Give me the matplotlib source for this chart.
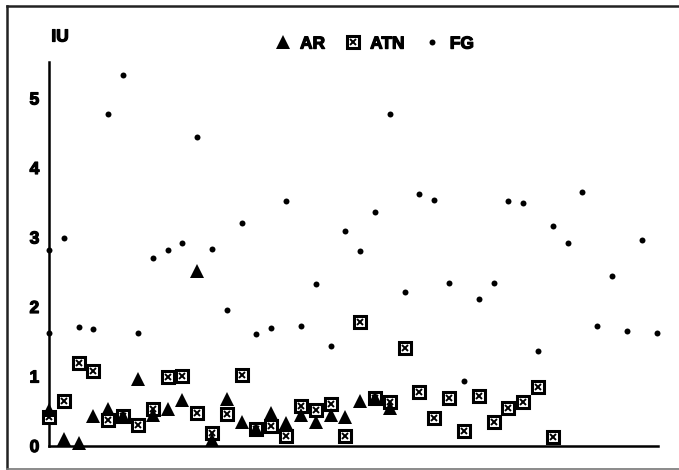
import matplotlib
matplotlib.use("Agg")
import matplotlib.pyplot as plt
import matplotlib.patheffects as pe
from matplotlib.lines import Line2D

plt.rcParams['font.family'] = ['Liberation Sans', 'DejaVu Sans']

# valores (indice de muestra, UI)
ar_x = list(range(24))
ar_y = [0.52, 0.10, 0.05, 0.43, 0.53, 0.43, 0.97, 0.45, 0.53, 0.66, 2.52, 0.08,
        0.67, 0.34, 0.25, 0.48, 0.33, 0.45, 0.34, 0.45, 0.42, 0.65, 0.69, 0.55]

atn_x = list(range(35))
atn_y = [0.42, 0.65, 1.19, 1.08, 0.37, 0.43, 0.30, 0.53, 0.99, 1.01, 0.48, 0.19,
         0.46, 1.02, 0.25, 0.29, 0.14, 0.58, 0.52, 0.61, 0.14, 1.79, 0.69, 0.64,
         1.41, 0.77, 0.41, 0.69, 0.21, 0.72, 0.34, 0.54, 0.64, 0.85, 0.13]

fg_x = [0] + list(range(42))
fg_y = [1.62, 2.82, 2.99, 1.71, 1.69, 4.78, 5.34, 1.63, 2.71, 2.82, 2.92, 4.44,
        2.84, 1.95, 3.21, 1.61, 1.70, 3.53, 1.72, 2.33, 1.44, 3.10, 2.81, 3.36,
        4.78, 2.21, 3.62, 3.54, 2.35, 0.93, 2.12, 2.35, 3.52, 3.49, 1.36, 3.16,
        2.92, 3.65, 1.73, 2.45, 1.66, 2.97, 1.63]

yticks = [0, 1, 2, 3, 4, 5]

W, H = 679, 470
fig = plt.figure(figsize=(W / 100, H / 100), dpi=100)
ax = fig.add_axes([49 / W, (H - 446) / H, (658 - 49) / W, (446 - 62) / H])

# texto mas grueso, como en el escaneo
grueso = [pe.withStroke(linewidth=0.9, foreground='black')]

fg, = ax.plot(fg_x, fg_y, 'o', color='black', ms=4.3, mew=0, clip_on=False, zorder=3)
atn_sq, = ax.plot(atn_x, atn_y, 's', mfc='white', mec='black', ms=8.8, mew=2.2,
                  clip_on=False, zorder=4)
atn_x_m, = ax.plot(atn_x, atn_y, 'x', color='black', ms=5, mew=1.4, clip_on=False, zorder=5)
ar, = ax.plot(ar_x, ar_y, '^', color='black', ms=10.5, mew=0, clip_on=False, zorder=6)

ax.set_xlim(0, 41.1)
ax.set_ylim(0, 5.525)
ax.set_xticks([])
ax.set_yticks(yticks)
ax.set_yticklabels([str(t) for t in yticks], fontsize=12.5, fontweight='bold')
for lab in ax.get_yticklabels():
    lab.set_path_effects(grueso)
ax.tick_params(axis='y', length=0, pad=7)
for s in ['top', 'right']:
    ax.spines[s].set_visible(False)
for s in ['left', 'bottom']:
    ax.spines[s].set_linewidth(1.8)

fig.text(60 / W, 1 - 37 / H, 'IU', ha='center', va='center', fontsize=12.5,
         fontweight='bold', path_effects=grueso)

leg = fig.legend([ar, (atn_sq, atn_x_m), fg], ['AR', 'ATN', 'FG'],
                 loc='center', bbox_to_anchor=(374 / W, 1 - 44 / H), ncol=3,
                 frameon=False, handlelength=1.0, handletextpad=0.5, columnspacing=1.1,
                 prop={'size': 12.5, 'weight': 'bold'})
for t in leg.get_texts():
    t.set_path_effects(grueso)

# marco del escaneo
fig.add_artist(Line2D([7 / W, 7 / W], [1 - 6 / H, 1 - 468 / H], color='#222222', lw=1.8))
fig.add_artist(Line2D([7 / W, 1], [1 - 6 / H, 1 - 6 / H], color='#222222', lw=1.8))
fig.add_artist(Line2D([7 / W, 1], [1 - 468.5 / H, 1 - 468.5 / H], color='#777777', lw=1.2))

fig.savefig('out.png', dpi=100)
